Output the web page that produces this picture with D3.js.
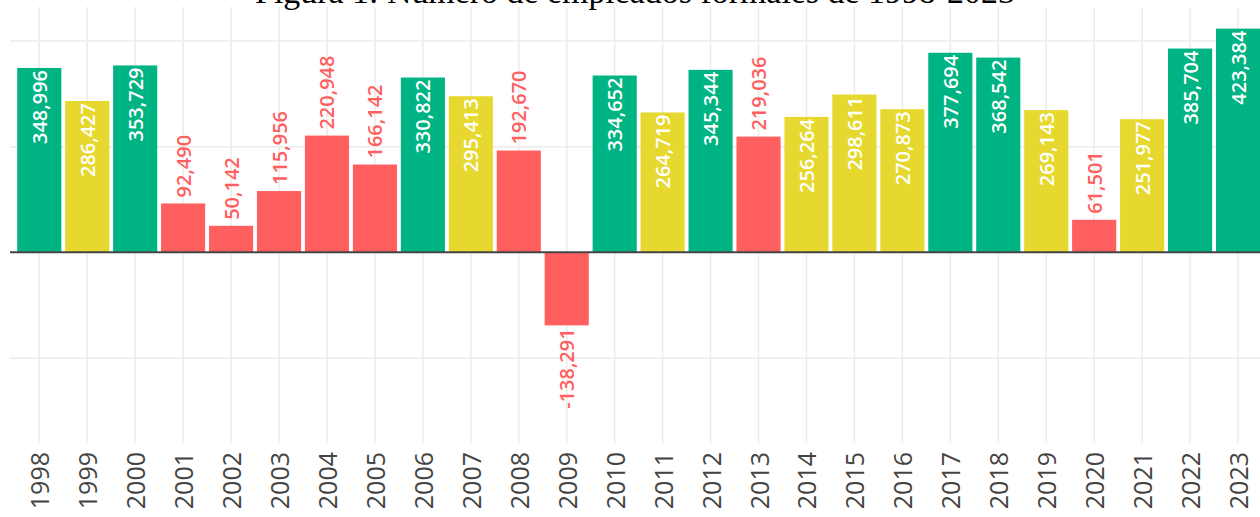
<!DOCTYPE html>
<html>
<head>
<meta charset="utf-8">
<script src="https://cdn.jsdelivr.net/npm/d3@7"></script>
<style>
	body { margin: 0; background: #fff; }
	svg { display: block; }
</style>
</head>
<body>
<div id="chart"></div>
<script>
// empleos formales nuevos por año (IMSS)
const years = ["1998", "1999", "2000", "2001", "2002", "2003", "2004", "2005", "2006",
	"2007", "2008", "2009", "2010", "2011", "2012", "2013", "2014", "2015", "2016",
	"2017", "2018", "2019", "2020", "2021", "2022", "2023"];
const empleos = [348996, 286427, 353729, 92490, 50142, 115956, 220948, 166142, 330822,
	295413, 192670, -138291, 334652, 264719, 345344, 219036, 256264, 298611, 270873,
	377694, 368542, 269143, 61501, 251977, 385704, 423384];
const grid_ticks = [400000, 200000, -200000];
const title_text = "Figura 1: Número de empleados formales de 1998-2023";

const width = 1260;
const height = 517;
const plot_left = 10;
const plot_top = 7;
const plot_bottom = 443;

const green = "#00b383";
const yellow = "#e6d82e";
const red = "#ff5f5f";

// color por tramo: < 250k rojo, < 300k amarillo, resto verde
const color = d3.scaleThreshold()
	.domain([250000, 300000])
	.range([red, yellow, green]);

const svg = d3.select("#chart").append("svg")
	.attr("width", width)
	.attr("height", height);

const x = d3.scaleBand()
	.domain(years)
	.range([15.3, 15.3 + 26 * 47.95])
	.paddingInner(0.08)
	.paddingOuter(0.04);

const y = d3.scaleLinear()
	.domain([-400000, 400000])
	.range([463.6, 41]);

// grid
svg.append("g")
	.selectAll("line.v")
	.data(years)
	.join("line")
	.attr("x1", d => x(d) + x.bandwidth() / 2)
	.attr("x2", d => x(d) + x.bandwidth() / 2)
	.attr("y1", plot_top)
	.attr("y2", plot_bottom)
	.attr("stroke", "#ebebeb")
	.attr("stroke-width", 1.5);

svg.append("g")
	.selectAll("line.h")
	.data(grid_ticks)
	.join("line")
	.attr("x1", plot_left)
	.attr("x2", width)
	.attr("y1", d => y(d))
	.attr("y2", d => y(d))
	.attr("stroke", "#ebebeb")
	.attr("stroke-width", 1.5);

// barras
svg.append("g")
	.selectAll("rect")
	.data(empleos)
	.join("rect")
	.attr("x", (d, i) => x(years[i]))
	.attr("width", x.bandwidth())
	.attr("y", d => y(Math.max(0, d)))
	.attr("height", d => Math.abs(y(d) - y(0)))
	.attr("fill", d => color(d));

// zero line
svg.append("line")
	.attr("x1", plot_left)
	.attr("x2", width)
	.attr("y1", y(0))
	.attr("y2", y(0))
	.attr("stroke", "#444")
	.attr("stroke-width", 2);

// etiquetas de valor (guion normal para el signo menos)
const fmt = d => d3.format(",")(d).replace("\u2212", "-");
svg.append("g")
	.selectAll("text")
	.data(empleos)
	.join("text")
	.attr("transform", (d, i) => {
		const cx = x(years[i]) + x.bandwidth() / 2;
		let ty;
		if (d < 0) ty = y(d) + 3;
		else if (color(d) === red) ty = y(d) - 6;
		else ty = y(d) + 2;
		return `translate(${cx},${ty}) rotate(-90)`;
	})
	.attr("text-anchor", d => (d >= 0 && color(d) === red) ? "start" : "end")
	.attr("dominant-baseline", "central")
	.attr("fill", d => color(d) === red ? red : "#fff")
	.style("font-family", "'Open Sans', sans-serif")
	.style("font-weight", 600)
	.style("font-size", "20px")
	.text(d => fmt(d));

// eje x
svg.append("g")
	.selectAll("text")
	.data(years)
	.join("text")
	.attr("transform", d => `translate(${x(d) + x.bandwidth() / 2},452) rotate(-90)`)
	.attr("text-anchor", "end")
	.attr("dominant-baseline", "central")
	.attr("fill", "#444")
	.style("font-family", "'Open Sans', sans-serif")
	.style("font-size", "25px")
	.text(d => d);

// titulo (cortado arriba, como en la imagen)
const title = svg.append("text")
	.attr("x", 635)
	.attr("y", 3)
	.attr("text-anchor", "middle")
	.attr("fill", "#000")
	.style("font-family", "'Liberation Serif', serif")
	.style("font-size", "30px")
	.text(title_text);
const tw = title.node().getComputedTextLength();
title.style("font-size", (30 * 760 / tw) + "px");
</script>
</body>
</html>
